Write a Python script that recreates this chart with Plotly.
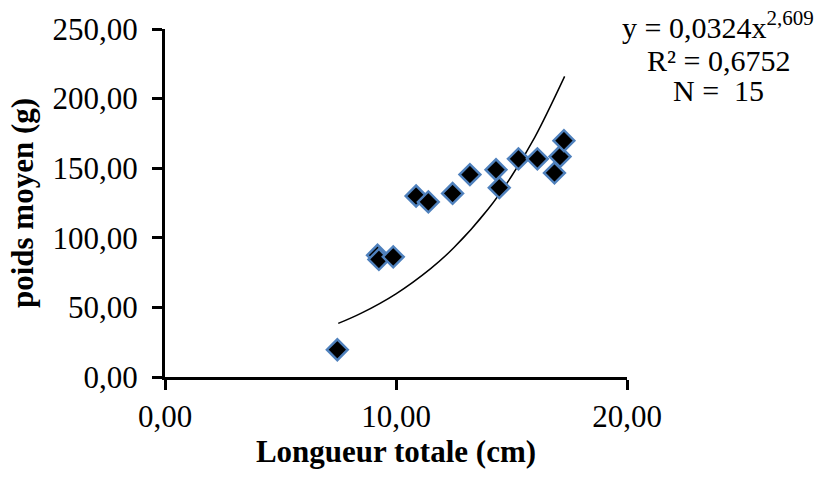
import plotly.graph_objects as go

longueur = [7.46, 9.20, 9.26, 9.88, 10.87, 11.40, 12.45, 13.20, 14.33, 14.47, 15.30, 16.12, 16.86, 17.10, 17.27]
poids = [19.6, 87.5, 84.5, 86.3, 130.0, 125.8, 131.9, 145.4, 148.9, 136.0, 156.7, 156.7, 146.6, 158.4, 169.8]

# Trend curve as drawn
trend_x = [7.5, 8.5, 10.0, 11.5, 12.5, 14.0, 15.0, 16.0, 17.3]
trend_y = [38.5, 45.9, 59.8, 77.9, 92.8, 120.9, 144.2, 172.0, 216.0]

x_ticks = [0, 10, 20]
x_ticklabels = ["0,00", "10,00", "20,00"]
y_ticks = [0, 50, 100, 150, 200, 250]
y_ticklabels = ["0,00", "50,00", "100,00", "150,00", "200,00", "250,00"]

eq_lines = ["y = 0,0324x<sup>2,609</sup>", "R² = 0,6752", "N =\u00a0\u00a015"]

FONT = "Liberation Serif, Times New Roman, serif"

fig = go.Figure()
fig.add_trace(go.Scatter(
    x=trend_x, y=trend_y, mode="lines", line=dict(color="black", width=1.5, shape="spline"),
    showlegend=False, hoverinfo="skip"))
fig.add_trace(go.Scatter(
    x=longueur, y=poids, mode="markers",
    marker=dict(symbol="diamond", size=16, color="black", line=dict(color="#4f81bd", width=2.5)),
    showlegend=False))

eq_y = [1.012, 0.91, 0.823]
annotations = []
for txt, yy in zip(eq_lines, eq_y):
    annotations.append(dict(
        xref="paper", yref="paper", x=1.198, y=yy, xanchor="center", yanchor="middle",
        align="center", showarrow=False, text=txt,
        font=dict(family=FONT, size=30, color="black")))

fig.update_layout(
    width=824, height=479,
    margin=dict(l=165, r=197, t=22, b=102),
    plot_bgcolor="white", paper_bgcolor="white",
    font=dict(family=FONT, size=31, color="black"),
    xaxis=dict(range=[0, 20], tickvals=x_ticks, ticktext=x_ticklabels,
               showgrid=False, zeroline=False, showline=True, linecolor="black", linewidth=3,
               ticks="outside", ticklen=10, tickwidth=3, tickcolor="black",
               tickfont=dict(family=FONT, size=31),
               title=dict(text="<b>Longueur totale (cm)</b>", font=dict(family=FONT, size=31), standoff=3)),
    yaxis=dict(range=[0, 250], tickvals=y_ticks, ticktext=y_ticklabels,
               showgrid=False, zeroline=False, showline=True, linecolor="black", linewidth=3,
               ticks="outside", ticklen=10, tickwidth=3, tickcolor="black",
               tickfont=dict(family=FONT, size=31), ticklabelstandoff=8,
               title=dict(text="<b>poids moyen (g)</b>", font=dict(family=FONT, size=31), standoff=10)),
    annotations=annotations,
)

fig.write_html("out.html")
